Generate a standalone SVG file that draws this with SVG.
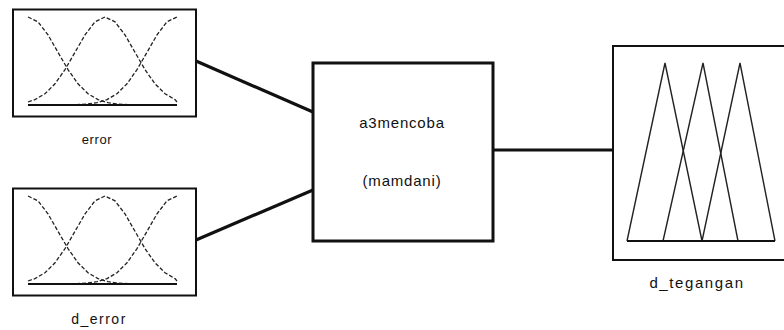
<svg xmlns="http://www.w3.org/2000/svg" xmlns:xlink="http://www.w3.org/1999/xlink" width="784" height="330" viewBox="0 0 784 330">
<style>
.box{fill:#fff;stroke:#111;stroke-width:2}
.sys{fill:#fff;stroke:#111;stroke-width:3}
.mf{fill:none;stroke:#222;stroke-width:1.3;stroke-dasharray:4 2}
.tri{fill:none;stroke:#222;stroke-width:1.4}
.base{fill:none;stroke:#111;stroke-width:2.2}
.conn{fill:none;stroke:#111;stroke-width:3.2}
.lbl{font-family:"Liberation Sans",Arial,sans-serif;fill:#111;text-anchor:middle}
</style>
<defs>
<g id="gaussmf">
<polyline class="mf" points="28,17 38,21.8 48,34.9 58,52.3 68,69.6 78,83.8 88,93.7 98,99.6 108,102.7 118,104.1 128,104.7 140,105 177,105"/>
<polyline class="mf" points="28,102 35,99.6 45,93.7 55,83.8 65,69.6 75,52.3 85,34.9 95,21.8 105,17 115,21.8 125,34.9 135,52.3 145,69.6 155,83.8 165,93.7 175,99.6 177,102"/>
<polyline class="mf" points="28,105 65,105 77,104.7 87,104.1 97,102.7 107,99.6 117,93.7 127,83.8 137,69.6 147,52.3 157,34.9 167,21.8 177,17"/>
<line class="base" x1="28" y1="105" x2="177" y2="105"/>
</g>
</defs>
<rect width="784" height="330" fill="#fff"/>
<g id="connectors">
<line class="conn" x1="196" y1="61" x2="313" y2="112"/>
<line class="conn" x1="196" y1="240" x2="313" y2="190"/>
<line class="conn" x1="493" y1="150" x2="613" y2="150"/>
</g>
<g id="error">
<rect class="box" x="13" y="9.5" width="183" height="107"/>
<use xlink:href="#gaussmf"/>
<text class="lbl" x="97" y="144" font-size="13" letter-spacing="0.6">error</text>
</g>
<g id="d_error">
<rect class="box" x="13" y="188.5" width="183" height="107"/>
<use xlink:href="#gaussmf" transform="translate(0,179)"/>
<text class="lbl" x="99" y="324" font-size="14" letter-spacing="1.5">d_error</text>
</g>
<g id="system">
<rect class="sys" x="313" y="63" width="180" height="178"/>
<text class="lbl" x="402" y="128" font-size="15" letter-spacing="0.8">a3mencoba</text>
<text class="lbl" x="402" y="186" font-size="15" letter-spacing="0.8">(mamdani)</text>
</g>
<g id="d_tegangan">
<rect class="box" x="613" y="46" width="190" height="214"/>
<polyline class="tri" points="627,241 665,63 702,241"/>
<polyline class="tri" points="663,241 703,63 738,241"/>
<polyline class="tri" points="702,241 740,63 775,241"/>
<line class="base" x1="627" y1="241" x2="775" y2="241"/>
<text class="lbl" x="697" y="288" font-size="15" letter-spacing="1.6">d_tegangan</text>
</g>
</svg>
